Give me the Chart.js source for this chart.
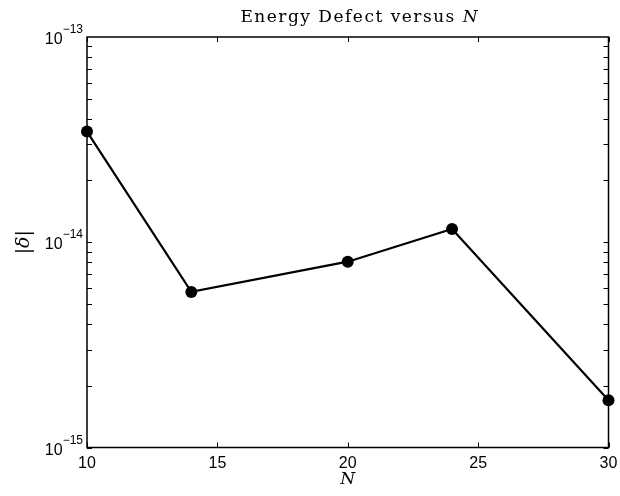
<!DOCTYPE html>
<html>
<head>
<meta charset="utf-8">
<script src="https://cdn.jsdelivr.net/npm/chart.js@4.4.1/dist/chart.umd.min.js"></script>
<style>
  html, body { margin: 0; padding: 0; background: #fff; }
  canvas { display: block; }
</style>
</head>
<body>
<canvas id="c" width="620" height="496"></canvas>
<script>
// Energy defect |delta| for each resolution N
const nValues = [10, 14, 20, 24, 30];
const deltaValues = [3.46e-14, 5.73e-15, 8.04e-15, 1.16e-14, 1.70e-15];

// Axis ticks
const xTickValues = [10, 15, 20, 25, 30];
const yTickValues = [1e-15, 1e-14, 1e-13];
const yTickBase = '10';
const yTickExponents = ['\u221215', '\u221214', '\u221213'];

// Text
const titleRuns = [['Energy Defect versus ', false], ['N', true]];
const xLabelRuns = [['N', true]];
const yLabelRuns = [['|', false], ['\u03B4', true], ['|', false]];

const SERIF = '"DejaVu Serif", serif';
const SANS = '"Liberation Sans", Arial, sans-serif';
const TICK_LEN = 5;

// Draws a sequence of [text, italic] runs centred on (cx, baseline y)
function drawRuns(ctx, runs, size, cx, y, spacing) {
  ctx.save();
  ctx.letterSpacing = spacing || '0px';
  ctx.textBaseline = 'alphabetic';
  ctx.textAlign = 'left';
  const widths = runs.map(([t, it]) => {
    ctx.font = (it ? 'italic ' : '') + size + 'px ' + SERIF;
    return ctx.measureText(t).width;
  });
  let x = cx - widths.reduce((a, b) => a + b, 0) / 2;
  runs.forEach(([t, it], i) => {
    ctx.font = (it ? 'italic ' : '') + size + 'px ' + SERIF;
    ctx.fillText(t, x, y);
    x += widths[i];
  });
  ctx.restore();
}

const frameAndLabels = {
  id: 'frameAndLabels',
  beforeDatasetsDraw(chart) {
    const { ctx, chartArea: a, scales: { x, y } } = chart;
    ctx.save();
    ctx.strokeStyle = '#000';
    ctx.lineWidth = 1;
    ctx.beginPath();
    // x ticks, pointing inward from bottom and top
    xTickValues.forEach(v => {
      const px = Math.round(x.getPixelForValue(v)) + 0.5;
      ctx.moveTo(px, a.bottom); ctx.lineTo(px, a.bottom - TICK_LEN);
      ctx.moveTo(px, a.top); ctx.lineTo(px, a.top + TICK_LEN);
    });
    // y major and minor ticks on the log axis, both sides
    const yMarks = [];
    for (let k = -15; k < -13; k++) {
      for (let m = 1; m <= 9; m++) yMarks.push(m * Math.pow(10, k));
    }
    yMarks.forEach(v => {
      const py = Math.round(y.getPixelForValue(v)) + 0.5;
      ctx.moveTo(a.left, py); ctx.lineTo(a.left + TICK_LEN, py);
      ctx.moveTo(a.right, py); ctx.lineTo(a.right - TICK_LEN, py);
    });
    ctx.stroke();
    // axes box
    ctx.lineWidth = 1.5;
    ctx.strokeRect(a.left, a.top, a.right - a.left, a.bottom - a.top);
    ctx.restore();
  },
  afterDraw(chart) {
    const { ctx, chartArea: a, scales: { y } } = chart;
    ctx.save();
    ctx.fillStyle = '#000';
    // y tick labels as 10 with a raised exponent
    yTickValues.forEach((v, i) => {
      const py = y.getPixelForValue(v);
      ctx.font = '12px ' + SANS;
      const ew = ctx.measureText(yTickExponents[i]).width;
      ctx.font = '16px ' + SANS;
      const bw = ctx.measureText(yTickBase).width;
      const right = a.left - 4;
      ctx.textAlign = 'left';
      ctx.textBaseline = 'alphabetic';
      ctx.fillText(yTickBase, right - ew - bw, py + 7);
      ctx.font = '12px ' + SANS;
      ctx.fillText(yTickExponents[i], right - ew, py - 4);
    });
    // title
    const cx = (a.left + a.right) / 2;
    drawRuns(ctx, titleRuns, 17, cx + 12, 22, '1.5px');
    // x axis label
    drawRuns(ctx, xLabelRuns, 17, cx, 483.5);
    // y axis label, rotated
    ctx.save();
    ctx.translate(29, (a.top + a.bottom) / 2);
    ctx.rotate(-Math.PI / 2);
    drawRuns(ctx, yLabelRuns, 19, 0, 0);
    ctx.restore();
    ctx.restore();
  }
};

new Chart(document.getElementById('c'), {
  type: 'line',
  data: {
    datasets: [{
      data: nValues.map((n, i) => ({ x: n, y: deltaValues[i] })),
      borderColor: '#000',
      borderWidth: 2.2,
      backgroundColor: '#000',
      pointBackgroundColor: '#000',
      pointBorderColor: '#000',
      pointBorderWidth: 0,
      pointRadius: 6,
      tension: 0,
      fill: false,
      clip: false
    }]
  },
  options: {
    responsive: false,
    animation: false,
    devicePixelRatio: 1,
    layout: { padding: { left: 87, right: 11.5, top: 37, bottom: 0 } },
    plugins: { legend: { display: false }, tooltip: { enabled: false }, title: { display: false } },
    scales: {
      x: {
        type: 'linear',
        min: 10,
        max: 30,
        afterBuildTicks: s => { s.ticks = xTickValues.map(v => ({ value: v })); },
        afterFit: s => { s.height = 48.5; s.paddingLeft = 0; s.paddingRight = 0; },
        grid: { display: false, drawTicks: false },
        border: { display: false },
        ticks: {
          color: '#000',
          font: { family: 'Liberation Sans', size: 16 },
          padding: 6,
          maxRotation: 0,
          autoSkip: false,
          callback: v => String(v)
        }
      },
      y: {
        type: 'logarithmic',
        min: 1e-15,
        max: 1e-13,
        display: false
      }
    }
  },
  plugins: [frameAndLabels]
});
</script>
</body>
</html>
